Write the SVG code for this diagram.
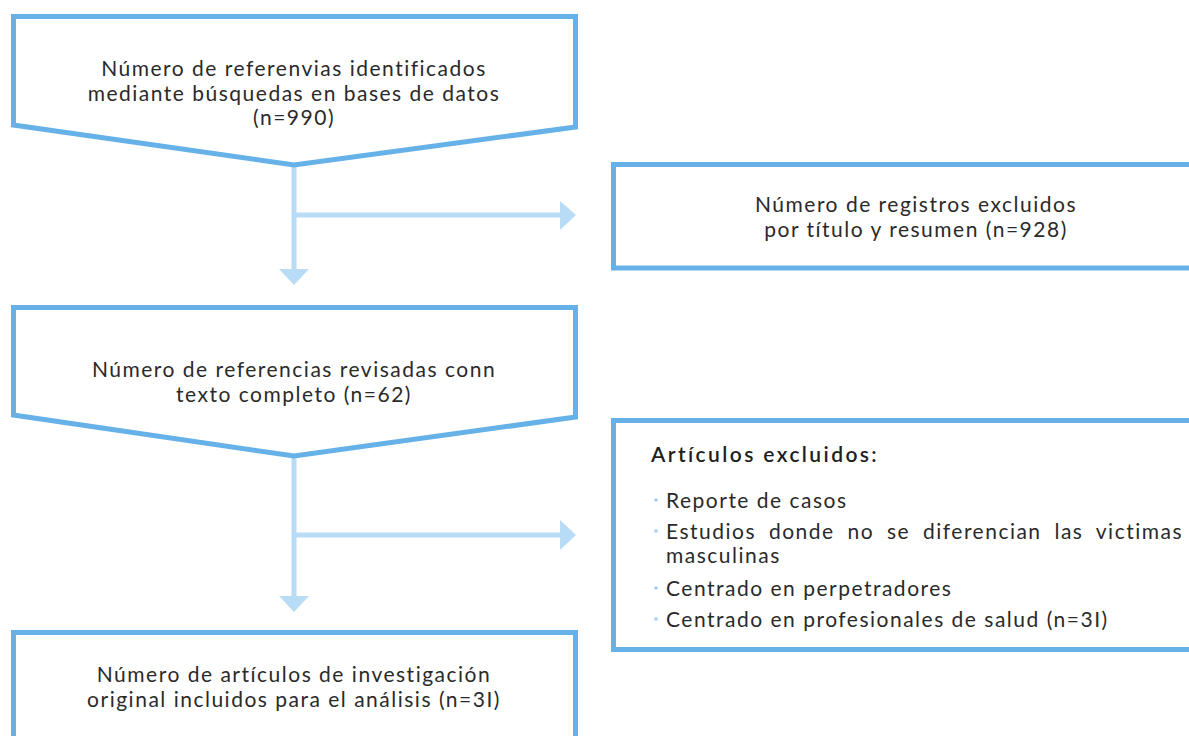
<svg xmlns="http://www.w3.org/2000/svg" width="1189" height="736" viewBox="0 0 1189 736">
<style>
.box{fill:#fff;stroke:#66b2e8;stroke-width:5}
.con{fill:none;stroke:#b8dcf6;stroke-width:5}
.head{fill:#b8dcf6}
text{font-family:Lato,"Noto Sans",sans-serif;font-size:21px;font-weight:400;fill:#2a2a2a;letter-spacing:1.5px}
.c{text-anchor:middle}
.b{font-weight:600;letter-spacing:2.4px;fill:#1e1e1e}
.dot{fill:#9fcdf0}
</style>
<rect width="1189" height="736" fill="#fff"/>
<g id="connectors">
<path class="con" d="M294 165V272M294 215H562"/>
<polygon class="head" points="279,269 309,269 294,285"/>
<polygon class="head" points="560,201 576,215 560,230"/>
<path class="con" d="M294 456V598M294 535H562"/>
<polygon class="head" points="279,596 309,596 294,612"/>
<polygon class="head" points="560,520 576,535 560,550"/>
</g>
<g id="n1">
<polygon class="box" points="13.5,16.5 575.5,16.5 575.5,127 294,165 13.5,125"/>
<text class="c" x="294" y="76">Número de referenvias identificados</text>
<text class="c" x="294" y="101">mediante búsquedas en bases de datos</text>
<text class="c" x="294" y="125">(n=990)</text>
</g>
<g id="n2">
<rect class="box" x="613.5" y="164.5" width="590" height="103.5"/>
<text class="c" x="916" y="212">Número de registros excluidos</text>
<text class="c" x="916" y="237">por título y resumen (n=928)</text>
</g>
<g id="n3">
<polygon class="box" points="13.5,307.5 575.5,307.5 575.5,417 294,456 13.5,415"/>
<text class="c" x="294" y="377">Número de referencias revisadas conn</text>
<text class="c" x="294" y="402">texto completo (n=62)</text>
</g>
<g id="n4">
<rect class="box" x="613.5" y="420.5" width="590" height="229"/>
<text class="b" x="651" y="462">Artículos excluidos:</text>
<circle class="dot" cx="656" cy="500" r="1.8"/>
<circle class="dot" cx="656" cy="531" r="1.8"/>
<circle class="dot" cx="656" cy="588" r="1.8"/>
<circle class="dot" cx="656" cy="619" r="1.8"/>
<text x="666" y="508">Reporte de casos</text>
<text x="666" y="539" textLength="517" lengthAdjust="spacing" style="word-spacing:6px">Estudios donde no se diferencian las victimas</text>
<text x="666" y="563">masculinas</text>
<text x="666" y="596">Centrado en perpetradores</text>
<text x="666" y="627">Centrado en profesionales de salud (n=3I)</text>
</g>
<g id="n5">
<rect class="box" x="13.5" y="632.5" width="562" height="120"/>
<text class="c" x="294" y="682">Número de artículos de investigación</text>
<text class="c" x="294" y="707">original incluidos para el análisis (n=3I)</text>
</g>
</svg>
